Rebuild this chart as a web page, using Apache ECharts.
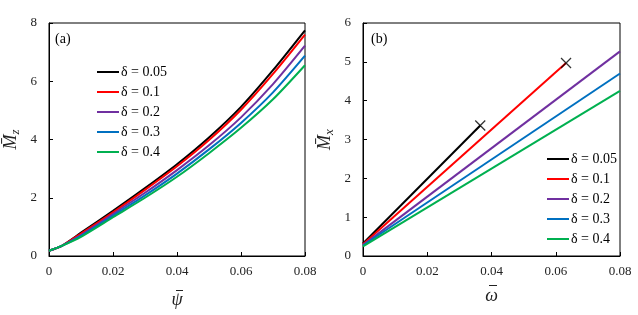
<!DOCTYPE html>
<html><head><meta charset="utf-8">
<script src="https://cdn.jsdelivr.net/npm/echarts@6/dist/echarts.min.js"></script>
<style>html,body{margin:0;padding:0;background:#fff}#c{width:638px;height:315px}</style>
</head><body><div id="c"></div>
<script>
const legendNames = ['δ = 0.05','δ = 0.1','δ = 0.2','δ = 0.3','δ = 0.4'];
const colors = ['#000000','#ff0000','#7030a0','#0070c0','#00b050'];
// Panel (a): psi vs Mz
const psiA = [0, 0.004, 0.01, 0.02, 0.03, 0.04, 0.05, 0.06, 0.07, 0.08];
const mzA = [
  [0.18, 0.35, 0.80, 1.55, 2.33, 3.15, 4.07, 5.12, 6.38, 7.75],
  [0.18, 0.35, 0.77, 1.50, 2.27, 3.08, 3.98, 5.02, 6.25, 7.60],
  [0.18, 0.35, 0.72, 1.44, 2.17, 2.95, 3.80, 4.76, 5.90, 7.22],
  [0.18, 0.35, 0.69, 1.38, 2.08, 2.83, 3.66, 4.57, 5.62, 6.88],
  [0.18, 0.35, 0.66, 1.33, 2.00, 2.72, 3.53, 4.40, 5.38, 6.55]
];
// Panel (b): omega vs Mx (start and end points of each line)
const omegaB = [
  [0, 0.0365],
  [0, 0.0632],
  [0, 0.08],
  [0, 0.08],
  [0, 0.08]
];
const mxB = [
  [0.32, 3.36],
  [0.30, 4.97],
  [0.28, 5.27],
  [0.27, 4.70],
  [0.25, 4.25]
];
// failure markers (x)
const crossOmega = [0.0365, 0.0632];
const crossMx = [3.36, 4.97];

const font = 'Liberation Serif, Times New Roman, serif';
const axisCommon = {
  axisLine: {show: true, onZero: false, lineStyle: {color: '#000', width: 1}},
  axisTick: {show: true, inside: true, length: 4, lineStyle: {color: '#000'}},
  splitLine: {show: false},
  axisLabel: {color: '#222', fontFamily: font, fontSize: 13}
};
function xAxis(idx, name, gap) {
  return Object.assign({}, axisCommon, {
    type: 'value', gridIndex: idx, min: 0, max: 0.08, interval: 0.02,
    axisLabel: Object.assign({}, axisCommon.axisLabel, {margin: 9, formatter: v => v === 0 ? '0' : v.toFixed(2)}),
    name: name, nameLocation: 'middle', nameGap: gap,
    nameTextStyle: {fontFamily: font, fontSize: 18, fontStyle: 'italic', color: '#222'}
  });
}
function yAxis(idx, max, interval, sub) {
  return Object.assign({}, axisCommon, {
    type: 'value', gridIndex: idx, min: 0, max: max, interval: interval,
    axisLabel: Object.assign({}, axisCommon.axisLabel, {margin: 12}),
    name: '{m|M\u0304}{s|' + sub + '}', nameLocation: 'middle', nameGap: 27,
    nameTextStyle: {
      rich: {
        m: {fontFamily: font, fontSize: 18, fontStyle: 'italic', color: '#222'},
        s: {fontFamily: font, fontSize: 13, fontStyle: 'italic', color: '#222', padding: [8, 0, 0, 0]}
      }
    }
  });
}
const series = [];
for (let i = 0; i < 5; i++) {
  series.push({
    name: legendNames[i], type: 'line', xAxisIndex: 0, yAxisIndex: 0,
    data: psiA.map((x, j) => [x, mzA[i][j]]), smooth: 0.25, showSymbol: false,
    lineStyle: {color: colors[i], width: 2}, itemStyle: {color: colors[i]}
  });
}
for (let i = 0; i < 5; i++) {
  series.push({
    name: legendNames[i], type: 'line', xAxisIndex: 1, yAxisIndex: 1,
    data: omegaB[i].map((x, j) => [x, mxB[i][j]]), showSymbol: false,
    lineStyle: {color: colors[i], width: 2}, itemStyle: {color: colors[i]}
  });
}
series.push({
  name: 'fail', type: 'scatter', xAxisIndex: 1, yAxisIndex: 1,
  data: crossOmega.map((x, j) => [x, crossMx[j]]),
  symbol: 'path://M0,0L10,10M10,0L0,10', symbolSize: 10,
  itemStyle: {color: 'transparent', borderColor: '#000', borderWidth: 1.3}, z: 5
});
const legendCommon = {
  orient: 'vertical', icon: 'rect', itemWidth: 22, itemHeight: 2, itemGap: 6,
  textStyle: {fontFamily: font, fontSize: 14, color: '#000', padding: [0, 0, 0, -3]},
  data: legendNames, selectedMode: false
};
const chart = echarts.init(document.getElementById('c'));
chart.setOption({
  animation: false,
  backgroundColor: '#fff',
  grid: [
    {left: 49, top: 23, width: 256, height: 233, show: true, borderColor: '#000', borderWidth: 1},
    {left: 363, top: 23, width: 257, height: 233, show: true, borderColor: '#000', borderWidth: 1}
  ],
  xAxis: [xAxis(0, '\u03C8', 35), xAxis(1, '\u03C9', 31)],
  yAxis: [yAxis(0, 8, 2, 'z'), yAxis(1, 6, 1, 'x')],
  legend: [
    Object.assign({}, legendCommon, {left: 92, top: 60}),
    Object.assign({}, legendCommon, {left: 542, top: 147})
  ],
  graphic: [
    {type: 'text', left: 55, top: 32, style: {text: '(a)', font: '14px ' + font, fill: '#000'}},
    {type: 'text', left: 371, top: 32, style: {text: '(b)', font: '14px ' + font, fill: '#000'}},
    {type: 'line', shape: {x1: 176, y1: 290.5, x2: 183, y2: 290.5}, style: {stroke: '#222', lineWidth: 1}},
    {type: 'line', shape: {x1: 489, y1: 285.5, x2: 497, y2: 285.5}, style: {stroke: '#222', lineWidth: 1}}
  ],
  series: series
});
</script></body></html>
